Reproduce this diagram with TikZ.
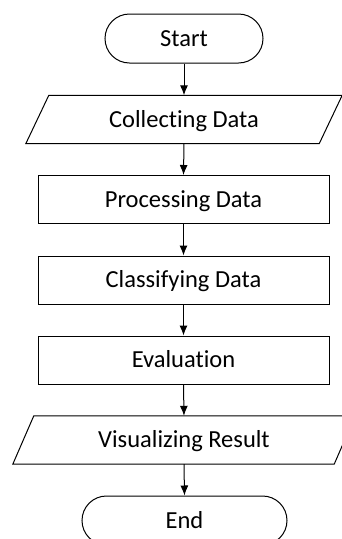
\documentclass[tikz,border=0pt]{standalone}
\usepackage{fontspec}
\setmainfont{Carlito}[Ligatures={NoCommon,NoDiscretionary,NoRare}]
\usetikzlibrary{arrows.meta,shapes.misc,calc}
\begin{document}
\begin{tikzpicture}[x=1pt,y=-1pt,
  lbl/.style={font=\fontsize{24.5}{29}\selectfont, text height=15.8pt, text depth=0.5pt, inner sep=0pt},
  term/.style={lbl, draw, rounded rectangle, line width=1pt, minimum height=49pt},
  proc/.style={lbl, draw, rectangle, line width=1pt, minimum width=291pt, minimum height=48pt},
  io/.style={lbl, rectangle, minimum height=48pt},
  para/.style={line width=1pt, line join=miter},
  arr/.style={-{Latex[length=10pt,width=8pt]}, line width=1pt}]
\useasboundingbox (0,0) rectangle (342,539);
\clip (0,0) rectangle (342,539);
\node[term, minimum width=158pt] (start) at (184,38.5) {Start};
\node[io, minimum width=293pt] (col) at (184,119.5) {Collecting Data};
\draw[para] ($(col.south west)+(-11.5,0)$) -- ($(col.south east)+(-11.5,0)$) -- ($(col.north east)+(11.5,0)$) -- ($(col.north west)+(11.5,0)$) -- cycle;
\node[proc] (proc) at (183.5,199.5) {Processing Data};
\node[proc] (cls) at (183.5,280) {Classifying Data};
\node[proc] (eval) at (183.5,360) {Evaluation};
\node[io, minimum width=321pt] (vis) at (184,440) {Visualizing Result};
\draw[para] ($(vis.south west)+(-10.5,0)$) -- ($(vis.south east)+(-10.5,0)$) -- ($(vis.north east)+(10.5,0)$) -- ($(vis.north west)+(10.5,0)$) -- cycle;
\node[term, minimum width=205pt] (end) at (184.5,520.5) {End};
\draw[arr] (start.south) -- (col.north);
\draw[arr] (col.south) -- (proc.north);
\draw[arr] (proc.south) -- (cls.north);
\draw[arr] (cls.south) -- (eval.north);
\draw[arr] (eval.south) -- (vis.north);
\draw[arr] (vis.south) -- (end.north);
\end{tikzpicture}
\end{document}
